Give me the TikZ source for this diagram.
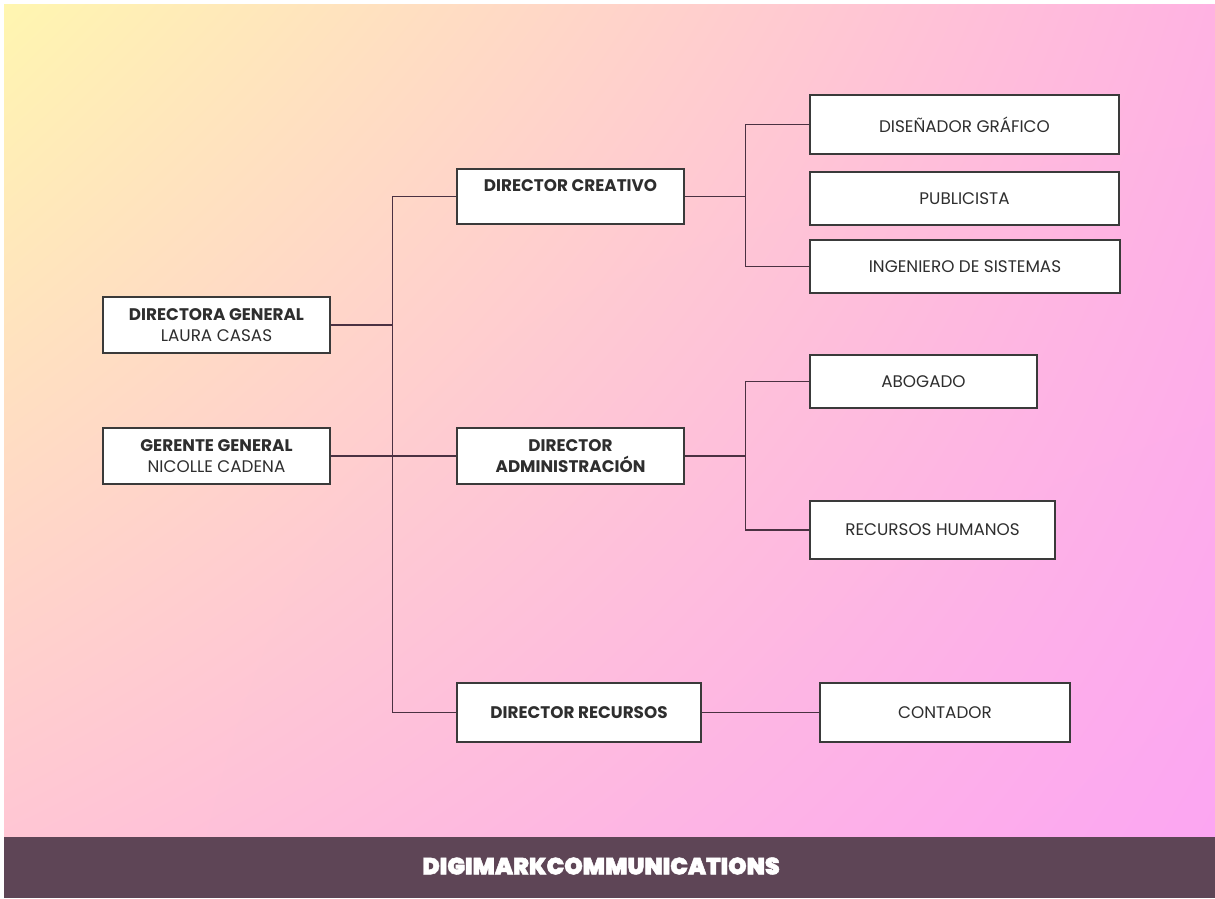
\documentclass[tikz,border=0pt]{standalone}
\usepackage{fontspec}
\usetikzlibrary{shadings}
\setmainfont{Poppins}
\newfontfamily\footfont{Poppins Black}[FakeBold=2]
\definecolor{bgyellow}{HTML}{FFF6B0}
\definecolor{bgpeach}{HTML}{FFB2E2}
\definecolor{bgrose}{HTML}{FFC6D4}
\definecolor{bgmagenta}{HTML}{FCA6F2}
\definecolor{footbg}{HTML}{5E4556}
\definecolor{boxgray}{HTML}{3A3A3A}
\definecolor{linebrown}{HTML}{4B3142}
\definecolor{txtgray}{HTML}{2E2E2E}

\begin{document}
\begin{tikzpicture}[x=1pt, y=-1pt,
    box/.style={draw=boxgray, fill=white, line width=1.1pt, align=center, inner sep=0pt,
        font=\fontsize{16.8}{21}\selectfont, text=txtgray},
    link/.style={draw=linebrown, line width=1.6pt}]
\useasboundingbox (0,0) rectangle (1215,898);
\fill[white] (0,0) rectangle (1215,898);
\shade[upper left=bgyellow, upper right=bgpeach, lower left=bgrose, lower right=bgmagenta]
    (4,4) rectangle (1215,837);
\fill[footbg] (4,837) rectangle (1215,898);
\node[font=\footfont\fontsize{23.5}{25}\selectfont, text=white] (foot) at (601,866) {DIGIMARKCOMMUNICATIONS};

% left column
\node[box, minimum width=227, minimum height=56] (dg) at (216.5,325)
    {\textbf{DIRECTORA GENERAL}\\LAURA CASAS};
\node[box, minimum width=227, minimum height=56] (gg) at (216.5,456)
    {\textbf{GERENTE GENERAL}\\NICOLLE CADENA};

% directors
\node[box, minimum width=227, minimum height=55] (dc) at (570.5,196.5)
    {\textbf{DIRECTOR CREATIVO}\\~};
\node[box, minimum width=227, minimum height=56] (da) at (570.5,456)
    {\textbf{DIRECTOR}\\\textbf{ADMINISTRACIÓN}};
\node[box, minimum width=244, minimum height=59] (dr) at (579,712.5)
    {\textbf{DIRECTOR RECURSOS}};

% staff
\node[box, minimum width=309, minimum height=59] (dis) at (964.5,124.5) {DISEÑADOR GRÁFICO};
\node[box, minimum width=309, minimum height=53] (pub) at (964.5,198.5) {PUBLICISTA};
\node[box, minimum width=310, minimum height=53] (ing) at (965,266.5) {INGENIERO DE SISTEMAS};
\node[box, minimum width=227, minimum height=53] (abo) at (923.5,381.5) {ABOGADO};
\node[box, minimum width=245, minimum height=58] (rh) at (932.5,530) {RECURSOS HUMANOS};
\node[box, minimum width=250, minimum height=59] (con) at (945,712.5) {CONTADOR};

\draw[link] (dc.west) -- ++(-64,0) coordinate (trunk) |- (dr.west);
\draw[link] (dg.east) -- (dg.east -| trunk);
\draw[link] (gg.east) -- (da.west);

\draw[link] (dis.west) -- ++(-64,0) coordinate (crea) |- (ing.west);
\draw[link] (dc.east) -- (dc.east -| crea);
\draw[link] (abo.west) -- ++(-64,0) coordinate (adm) |- (rh.west);
\draw[link] (da.east) -- (da.east -| adm);
\draw[link] (dr.east) -- (con.west);
\end{tikzpicture}
\end{document}
